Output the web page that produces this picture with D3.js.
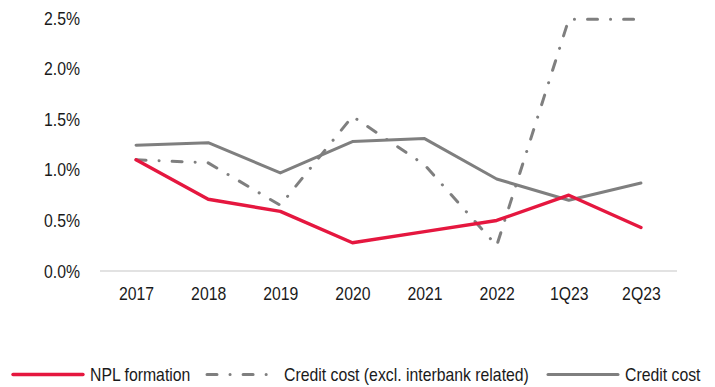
<!DOCTYPE html>
<html>
<head>
<meta charset="utf-8">
<script src="https://cdn.jsdelivr.net/npm/d3@7"></script>
<style>
  html, body { margin: 0; padding: 0; background: #fff; }
  svg { display: block; }
  text { font-family: "Liberation Sans Narrow", "Liberation Sans", Arial, sans-serif; fill: #1a1a1a; }
  .narrow { transform-box: fill-box; transform: scaleX(0.84); }
  .narrow.end { transform-origin: right center; }
  .narrow.mid { transform-origin: center center; }
  .narrow.start { transform-origin: left center; }
</style>
</head>
<body>
<svg id="chart" width="715" height="387"></svg>
<script>
const categories = ["2017", "2018", "2019", "2020", "2021", "2022", "1Q23", "2Q23"];
const nplFormation = [1.10, 0.71, 0.59, 0.28, 0.39, 0.50, 0.75, 0.43];
const creditCostExclInterbank = [1.10, 1.07, 0.65, 1.53, 1.05, 0.25, 2.49, 2.49];
const creditCost = [1.245, 1.27, 0.97, 1.28, 1.31, 0.91, 0.70, 0.87];
const yTicks = [0, 0.5, 1.0, 1.5, 2.0, 2.5];

const seriesNames = ["NPL formation", "Credit cost (excl. interbank related)", "Credit cost"];

const svg = d3.select("#chart");
const fontSize = 18.8;

const x = d3.scalePoint().domain(categories).range([100, 677]).padding(0.5);
const y = d3.scaleLinear().domain([0, 2.5]).range([271, 18.3]);

// baseline axis line
svg.append("line")
  .attr("x1", 100).attr("x2", 677)
  .attr("y1", y(0)).attr("y2", y(0))
  .attr("stroke", "#d9d9d9").attr("stroke-width", 1.5);

// Y axis labels
const yAxis = d3.axisLeft(y).tickValues(yTicks).tickFormat(d => d3.format(".1f")(d) + "%").tickSize(0).tickPadding(0);
const yg = svg.append("g").attr("transform", "translate(80,0)").call(yAxis);
yg.select(".domain").remove();
yg.selectAll("text").attr("font-size", fontSize).attr("fill", "#1a1a1a")
  .attr("class", "narrow end")
  .style("font-family", '"Liberation Sans", Arial, sans-serif');

// X axis labels
const xAxis = d3.axisBottom(x).tickSize(0).tickPadding(0);
const xg = svg.append("g").attr("transform", "translate(0,287)").call(xAxis);
xg.select(".domain").remove();
xg.selectAll("text").attr("font-size", fontSize).attr("fill", "#1a1a1a")
  .attr("class", "narrow mid")
  .style("font-family", '"Liberation Sans", Arial, sans-serif');

const styles = [
  { data: nplFormation, color: "#E5173F", width: 3.4, dash: null },
  { data: creditCostExclInterbank, color: "#7f7f7f", width: 3, dash: "10,13,0.1,13" },
  { data: creditCost, color: "#7f7f7f", width: 3, dash: null }
];

const line = d3.line().x((d, i) => x(categories[i])).y(d => y(d));

// draw order: dashdot, solid gray, red on top
[1, 2, 0].forEach(k => {
  const s = styles[k];
  svg.append("path")
    .datum(s.data)
    .attr("d", line)
    .attr("fill", "none")
    .attr("stroke", s.color)
    .attr("stroke-width", s.width)
    .attr("stroke-linejoin", "round")
    .attr("stroke-linecap", "round")
    .attr("stroke-dasharray", s.dash);
});

// Legend
const legendY = 374.5;
const legendStarts = [13, 207, 548];
seriesNames.forEach((name, k) => {
  const s = styles[k];
  const x0 = legendStarts[k];
  svg.append("line")
    .attr("x1", x0).attr("x2", x0 + 70)
    .attr("y1", legendY).attr("y2", legendY)
    .attr("stroke", s.color).attr("stroke-width", s.width)
    .attr("stroke-linecap", "round")
    .attr("stroke-dasharray", s.dash);
  svg.append("text")
    .attr("x", x0 + 77).attr("y", legendY)
    .attr("dy", "0.35em")
    .attr("font-size", fontSize)
    .attr("class", "narrow start")
    .style("font-family", '"Liberation Sans", Arial, sans-serif')
    .text(name);
});
</script>
</body>
</html>
